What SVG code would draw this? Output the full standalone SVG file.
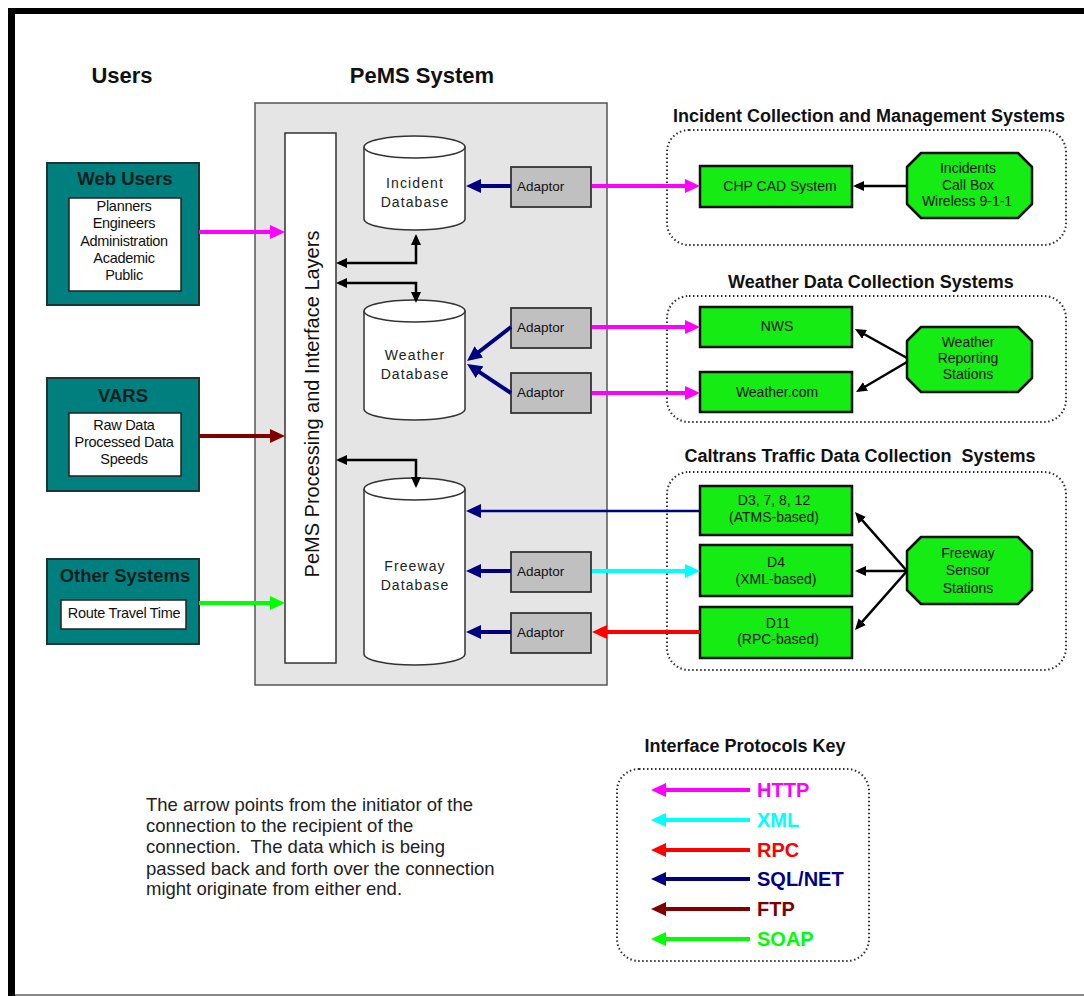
<svg xmlns="http://www.w3.org/2000/svg" width="1084" height="996" viewBox="0 0 1084 996">
  <defs>
    <style>
      text { font-family: "Liberation Sans", Arial, sans-serif; fill: #111; }
      .hdr { font-size: 22px; font-weight: bold; text-anchor: middle; }
      .grp { font-size: 18px; font-weight: bold; text-anchor: middle; }
      .ttl { font-size: 18.5px; font-weight: bold; text-anchor: middle; fill: #0c1f1f; }
      .lst { font-size: 14.5px; text-anchor: middle; letter-spacing: -0.3px; }
      .db { font-size: 14px; text-anchor: middle; letter-spacing: 1.1px; fill: #222; }
      .ad { font-size: 13.5px; fill: #111; }
      .gt { font-size: 14px; text-anchor: middle; }
      .oc { font-size: 14px; text-anchor: middle; }
      .key { font-size: 20px; font-weight: bold; }
      .note { font-size: 18.5px; fill: #222; }
      .user { fill: #007f7f; stroke: #1c3636; stroke-width: 2; }
      .inner { fill: #fff; stroke: #222; stroke-width: 1.5; }
      .cyl { fill: #fff; stroke: #333; stroke-width: 1.5; }
      .adp { fill: #c0c0c0; stroke: #333; stroke-width: 1.8; }
      .gbox { fill: #14ec14; stroke: #111; stroke-width: 2.5; }
      .grpbox { fill: none; stroke: #333; stroke-width: 2; stroke-dasharray: 1.5 2.5; }
      .w4 { stroke-width: 4; fill: none; }
      .w25 { stroke-width: 2.5; fill: none; }
    </style>
    <marker id="hMag" viewBox="0 0 15 14" markerWidth="15" markerHeight="14" refX="10" refY="7" orient="auto" markerUnits="userSpaceOnUse"><path d="M0,0 L15,7 L0,14 Z" fill="#ff00ff"/></marker>
    <marker id="hCya" viewBox="0 0 15 14" markerWidth="15" markerHeight="14" refX="10" refY="7" orient="auto" markerUnits="userSpaceOnUse"><path d="M0,0 L15,7 L0,14 Z" fill="#00ffff"/></marker>
    <marker id="hRed" viewBox="0 0 15 14" markerWidth="15" markerHeight="14" refX="10" refY="7" orient="auto" markerUnits="userSpaceOnUse"><path d="M0,0 L15,7 L0,14 Z" fill="#ff0000"/></marker>
    <marker id="hNav" viewBox="0 0 15 14" markerWidth="15" markerHeight="14" refX="10" refY="7" orient="auto" markerUnits="userSpaceOnUse"><path d="M0,0 L15,7 L0,14 Z" fill="#000080"/></marker>
    <marker id="hMar" viewBox="0 0 15 14" markerWidth="15" markerHeight="14" refX="10" refY="7" orient="auto" markerUnits="userSpaceOnUse"><path d="M0,0 L15,7 L0,14 Z" fill="#800000"/></marker>
    <marker id="hGrn" viewBox="0 0 15 14" markerWidth="15" markerHeight="14" refX="10" refY="7" orient="auto" markerUnits="userSpaceOnUse"><path d="M0,0 L15,7 L0,14 Z" fill="#00ff00"/></marker>
    <marker id="hBlk" viewBox="0 0 11 10" markerWidth="11" markerHeight="10" refX="8" refY="5" orient="auto-start-reverse" markerUnits="userSpaceOnUse"><path d="M0,0 L11,5 L0,10 Z" fill="#000"/></marker>
  </defs>

  <!-- page frame -->
  <rect x="0" y="0" width="1084" height="996" fill="#fff"/>
  <rect x="8" y="8" width="1076" height="6" fill="#000"/>
  <rect x="8" y="8" width="7" height="988" fill="#000"/>
  <line x1="15" y1="995" x2="1084" y2="995" stroke="#888" stroke-width="2"/>

  <!-- column headings -->
  <text class="hdr" x="122" y="83">Users</text>
  <text class="hdr" x="422" y="83">PeMS System</text>

  <!-- users -->
  <g id="web-users">
    <rect class="user" x="47" y="163" width="152" height="142"/>
    <text class="ttl" x="125" y="185">Web Users</text>
    <rect class="inner" x="69" y="198" width="112" height="93"/>
    <text class="lst" x="124" y="211">Planners</text>
    <text class="lst" x="124" y="228">Engineers</text>
    <text class="lst" x="124" y="246">Administration</text>
    <text class="lst" x="124" y="263">Academic</text>
    <text class="lst" x="124" y="280">Public</text>
  </g>
  <g id="vars">
    <rect class="user" x="47" y="378" width="152" height="113"/>
    <text class="ttl" x="123" y="402">VARS</text>
    <rect class="inner" x="69" y="413" width="112" height="63"/>
    <text class="lst" x="124" y="430">Raw Data</text>
    <text class="lst" x="124" y="447">Processed Data</text>
    <text class="lst" x="124" y="464">Speeds</text>
  </g>
  <g id="other-systems">
    <rect class="user" x="47" y="559" width="152" height="85"/>
    <text class="ttl" x="125" y="582">Other Systems</text>
    <rect class="inner" x="61" y="600" width="125" height="29"/>
    <text class="lst" x="124" y="618">Route Travel Time</text>
  </g>

  <!-- PeMS system -->
  <g id="pems-system">
    <rect x="255" y="103" width="352" height="582" fill="#e5e5e5" stroke="#555" stroke-width="1.5"/>
  </g>
  <g id="processing-layers">
    <rect x="285" y="133" width="51" height="530" fill="#fff" stroke="#333" stroke-width="1.5"/>
    <text x="319" y="404" transform="rotate(-90 319 404)" text-anchor="middle" font-size="20" fill="#2a2a2a">PeMS Processing and Interface Layers</text>
  </g>
  <g id="incident-db">
    <path class="cyl" d="M364,147 A50.5,11 0 0,1 465,147 V219 A50.5,11 0 0,1 364,219 Z"/>
    <path class="cyl" d="M364,147 A50.5,11 0 0,0 465,147" fill="none"/>
    <text class="db" x="415" y="188">Incident</text>
    <text class="db" x="415" y="207">Database</text>
  </g>
  <g id="weather-db">
    <path class="cyl" d="M364,311 A50.5,11 0 0,1 465,311 V409 A50.5,11 0 0,1 364,409 Z"/>
    <path class="cyl" d="M364,311 A50.5,11 0 0,0 465,311" fill="none"/>
    <text class="db" x="415" y="360">Weather</text>
    <text class="db" x="415" y="379">Database</text>
  </g>
  <g id="freeway-db">
    <path class="cyl" d="M364,489 A50.5,11 0 0,1 465,489 V654 A50.5,11 0 0,1 364,654 Z"/>
    <path class="cyl" d="M364,489 A50.5,11 0 0,0 465,489" fill="none"/>
    <text class="db" x="415" y="571">Freeway</text>
    <text class="db" x="415" y="590">Database</text>
  </g>
  <g id="adaptor-incident">
    <rect class="adp" x="511" y="167" width="80" height="40"/>
    <text class="ad" x="517" y="191">Adaptor</text>
  </g>
  <g id="adaptor-nws">
    <rect class="adp" x="511" y="308" width="80" height="40"/>
    <text class="ad" x="517" y="332">Adaptor</text>
  </g>
  <g id="adaptor-weathercom">
    <rect class="adp" x="511" y="373" width="80" height="40"/>
    <text class="ad" x="517" y="397">Adaptor</text>
  </g>
  <g id="adaptor-d4">
    <rect class="adp" x="511" y="552" width="80" height="40"/>
    <text class="ad" x="517" y="576">Adaptor</text>
  </g>
  <g id="adaptor-d11">
    <rect class="adp" x="511" y="613" width="80" height="40"/>
    <text class="ad" x="517" y="637">Adaptor</text>
  </g>

  <!-- external systems -->
  <g id="incident-systems">
    <text class="grp" x="869" y="122">Incident Collection and Management Systems</text>
    <rect class="grpbox" x="667" y="130" width="399" height="115" rx="22"/>
  </g>
  <g id="chp-cad">
    <rect class="gbox" x="700" y="166" width="152" height="41"/>
    <text class="gt" x="780" y="191">CHP CAD System</text>
  </g>
  <g id="incident-sources">
    <polygon class="gbox" stroke-linejoin="round" points="921,153 1018,153 1032,167 1032,204 1018,218 921,218 907,204 907,167"/>
    <text class="oc" x="968" y="173">Incidents</text>
    <text class="oc" x="968" y="190">Call Box</text>
    <text class="oc" x="967" y="206">Wireless 9-1-1</text>
  </g>

  <g id="weather-systems">
    <text class="grp" x="871" y="288">Weather Data Collection Systems</text>
    <rect class="grpbox" x="667" y="296" width="399" height="126" rx="22"/>
  </g>
  <g id="nws">
    <rect class="gbox" x="700" y="307" width="152" height="40"/>
    <text class="gt" x="777" y="331">NWS</text>
  </g>
  <g id="weather-com">
    <rect class="gbox" x="700" y="372" width="152" height="40"/>
    <text class="gt" x="777" y="397">Weather.com</text>
  </g>
  <g id="weather-stations">
    <polygon class="gbox" stroke-linejoin="round" points="921,327 1018,327 1032,341 1032,378 1018,392 921,392 907,378 907,341"/>
    <text class="oc" x="968" y="347">Weather</text>
    <text class="oc" x="968" y="363">Reporting</text>
    <text class="oc" x="968" y="379">Stations</text>
  </g>

  <g id="traffic-systems">
    <text class="grp" x="860" y="462" xml:space="preserve">Caltrans Traffic Data Collection  Systems</text>
    <rect class="grpbox" x="667" y="472" width="399" height="198" rx="22"/>
  </g>
  <g id="d3-atms">
    <rect class="gbox" x="700" y="486" width="152" height="49"/>
    <text class="gt" x="774" y="505">D3, 7, 8, 12</text>
    <text class="gt" x="774" y="522">(ATMS-based)</text>
  </g>
  <g id="d4-xml">
    <rect class="gbox" x="700" y="545" width="152" height="51"/>
    <text class="gt" x="776" y="567">D4</text>
    <text class="gt" x="776" y="584">(XML-based)</text>
  </g>
  <g id="d11-rpc">
    <rect class="gbox" x="700" y="607" width="152" height="51"/>
    <text class="gt" x="778" y="628">D11</text>
    <text class="gt" x="778" y="644">(RPC-based)</text>
  </g>
  <g id="freeway-stations">
    <polygon class="gbox" stroke-linejoin="round" points="921,537 1018,537 1032,551 1032,590 1018,604 921,604 907,590 907,551"/>
    <text class="oc" x="968" y="558">Freeway</text>
    <text class="oc" x="968" y="575">Sensor</text>
    <text class="oc" x="968" y="593">Stations</text>
  </g>

  <!-- connectors -->
  <g id="connectors">
    <!-- users into the processing layers -->
    <line class="w4" x1="199" y1="232" x2="280" y2="232" stroke="#ff00ff" marker-end="url(#hMag)"/>
    <line class="w4" x1="199" y1="436" x2="280" y2="436" stroke="#800000" marker-end="url(#hMar)"/>
    <line class="w4" x1="199" y1="603" x2="280" y2="603" stroke="#00ff00" marker-end="url(#hGrn)"/>

    <!-- processing layers to databases -->
    <path class="w25" d="M339,263 H416 V237" stroke="#000" marker-start="url(#hBlk)" marker-end="url(#hBlk)"/>
    <path class="w25" d="M339,283 H416 V300" stroke="#000" marker-start="url(#hBlk)" marker-end="url(#hBlk)"/>
    <path class="w25" d="M339,460 H416 V485" stroke="#000" marker-start="url(#hBlk)" marker-end="url(#hBlk)"/>

    <!-- adaptors to databases -->
    <line class="w4" x1="511" y1="186" x2="471" y2="186" stroke="#000080" marker-end="url(#hNav)"/>
    <line class="w4" x1="511" y1="327" x2="471" y2="358" stroke="#000080" marker-end="url(#hNav)"/>
    <line class="w4" x1="511" y1="393" x2="471.2" y2="366.7" stroke="#000080" marker-end="url(#hNav)"/>
    <line class="w4" x1="511" y1="571" x2="471" y2="571" stroke="#000080" marker-end="url(#hNav)"/>
    <line class="w4" x1="511" y1="632" x2="471" y2="632" stroke="#000080" marker-end="url(#hNav)"/>
    <line x1="700" y1="511" x2="471" y2="511" stroke="#000080" stroke-width="2.5" marker-end="url(#hNav)"/>

    <!-- adaptors to external systems -->
    <line class="w4" x1="592" y1="186" x2="695" y2="186" stroke="#ff00ff" marker-end="url(#hMag)"/>
    <line class="w4" x1="592" y1="327" x2="695" y2="327" stroke="#ff00ff" marker-end="url(#hMag)"/>
    <line class="w4" x1="592" y1="393" x2="695" y2="393" stroke="#ff00ff" marker-end="url(#hMag)"/>
    <line class="w4" x1="592" y1="571" x2="695" y2="571" stroke="#00ffff" marker-end="url(#hCya)"/>
    <line class="w4" x1="700" y1="632" x2="597" y2="632" stroke="#ff0000" marker-end="url(#hRed)"/>

    <!-- field sources -->
    <line class="w25" x1="907" y1="186" x2="856" y2="186" stroke="#000" marker-end="url(#hBlk)"/>
    <line class="w25" x1="907" y1="358" x2="857.6" y2="330.5" stroke="#000" marker-end="url(#hBlk)"/>
    <line class="w25" x1="907" y1="362" x2="858.6" y2="390.5" stroke="#000" marker-end="url(#hBlk)"/>
    <line class="w25" x1="907" y1="571" x2="857" y2="514.3" stroke="#000" marker-end="url(#hBlk)"/>
    <line class="w25" x1="907" y1="571" x2="858" y2="571" stroke="#000" marker-end="url(#hBlk)"/>
    <line class="w25" x1="907" y1="571" x2="857" y2="627.7" stroke="#000" marker-end="url(#hBlk)"/>
  </g>

  <!-- explanatory note -->
  <g id="note">
    <text class="note" x="146" y="811">The arrow points from the initiator of the</text>
    <text class="note" x="146" y="832">connection to the recipient of the</text>
    <text class="note" x="146" y="853" xml:space="preserve">connection.  The data which is being</text>
    <text class="note" x="146" y="875">passed back and forth over the connection</text>
    <text class="note" x="146" y="895">might originate from either end.</text>
  </g>

  <!-- protocol key -->
  <g id="protocol-key">
    <text class="grp" x="745" y="752" font-size="17">Interface Protocols Key</text>
    <rect class="grpbox" x="617" y="769" width="252" height="192" rx="22"/>
    <line class="w4" x1="750" y1="790" x2="656" y2="790" stroke="#ff00ff" marker-end="url(#hMag)"/>
    <line class="w4" x1="750" y1="820" x2="656" y2="820" stroke="#00ffff" marker-end="url(#hCya)"/>
    <line class="w4" x1="750" y1="850" x2="656" y2="850" stroke="#ff0000" marker-end="url(#hRed)"/>
    <line class="w4" x1="750" y1="879" x2="656" y2="879" stroke="#000080" marker-end="url(#hNav)"/>
    <line class="w4" x1="750" y1="909" x2="656" y2="909" stroke="#800000" marker-end="url(#hMar)"/>
    <line class="w4" x1="750" y1="939" x2="656" y2="939" stroke="#00ff00" marker-end="url(#hGrn)"/>
    <text class="key" x="757" y="797" style="fill:#ff00ff">HTTP</text>
    <text class="key" x="757" y="827" style="fill:#00ffff">XML</text>
    <text class="key" x="757" y="857" style="fill:#ff0000">RPC</text>
    <text class="key" x="757" y="886" style="fill:#000080">SQL/NET</text>
    <text class="key" x="757" y="916" style="fill:#800000">FTP</text>
    <text class="key" x="757" y="946" style="fill:#00ff00">SOAP</text>
  </g>
</svg>
